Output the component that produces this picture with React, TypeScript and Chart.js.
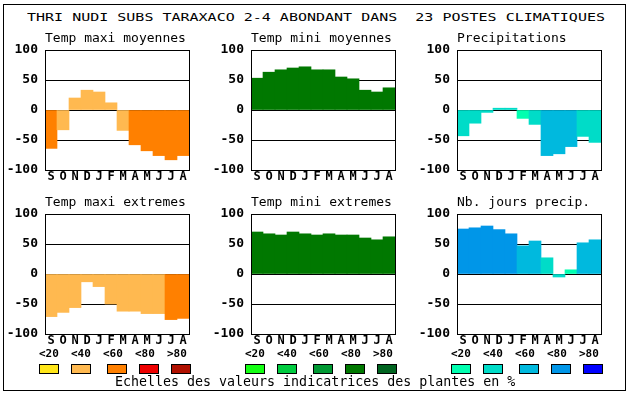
import React, { useEffect, useRef } from 'react';
import { Chart, registerables } from 'chart.js';

Chart.register(...registerables);

// ---------- data ----------
const months = ['S', 'O', 'N', 'D', 'J', 'F', 'M', 'A', 'M', 'J', 'J', 'A'];
const classLabels = ['<20', '<40', '<60', '<80', '>80'];

const tmaxMoy = [-64, -33, 20, 33, 30, 12, -34, -58, -68, -76, -83, -76];
const tmaxMoyCls = [2, 1, 1, 1, 1, 1, 1, 2, 2, 2, 2, 2];
const tminMoy = [53, 63, 67, 70, 72, 67, 67, 55, 52, 33, 30, 37];
const tminMoyCls = [3, 3, 3, 3, 3, 3, 3, 3, 3, 3, 3, 3];
const precip = [-43, -22, -4, 3, 3, -14, -24, -76, -73, -61, -44, -54];
const precipCls = [1, 1, 1, 1, 1, 0, 1, 2, 2, 2, 1, 1];
const tmaxExt = [-71, -64, -56, -13, -21, -50, -62, -62, -66, -66, -76, -74];
const tmaxExtCls = [1, 1, 1, 1, 1, 1, 1, 1, 1, 1, 2, 2];
const tminExt = [70, 67, 65, 70, 67, 65, 67, 65, 65, 60, 57, 62];
const tminExtCls = [3, 3, 3, 3, 3, 3, 3, 3, 3, 3, 3, 3];
const nbJours = [75, 77, 80, 74, 67, 47, 55, 27, -5, 7, 52, 57];
const nbJoursCls = [3, 3, 3, 3, 3, 2, 2, 1, 1, 0, 2, 2];

const mainTitle = 'THRI NUDI SUBS TARAXACO 2-4 ABONDANT DANS  23 POSTES CLIMATIQUES';
const caption = 'Echelles des valeurs indicatrices des plantes en %';

// ---------- styles ----------
const orangeScale = ['#FFE619', '#FFB950', '#FF8000', '#EE0000', '#B01000'];
const greenScale = ['#14FF14', '#00CC40', '#009933', '#007800', '#006420'];
const blueScale = ['#00FFB0', '#00DCC8', '#00B9DE', '#0096E8', '#0000FF'];
const MONO = '"DejaVu Sans Mono", monospace';

const panels = [
  { title: 'Temp maxi moyennes', data: tmaxMoy, cls: tmaxMoyCls, scale: orangeScale, left: 0, top: 30 },
  { title: 'Temp mini moyennes', data: tminMoy, cls: tminMoyCls, scale: greenScale, left: 206, top: 30 },
  { title: 'Precipitations', data: precip, cls: precipCls, scale: blueScale, left: 412, top: 30 },
  { title: 'Temp maxi extremes', data: tmaxExt, cls: tmaxExtCls, scale: orangeScale, left: 0, top: 194 },
  { title: 'Temp mini extremes', data: tminExt, cls: tminExtCls, scale: greenScale, left: 206, top: 194 },
  { title: 'Nb. jours precip.', data: nbJours, cls: nbJoursCls, scale: blueScale, left: 412, top: 194 },
];

const boxPlugin = {
  id: 'boxFrame',
  afterDatasetsDraw(chart: any) {
    const { ctx, chartArea } = chart;
    ctx.save();
    ctx.strokeStyle = '#000';
    ctx.lineWidth = 1;
    ctx.strokeRect(
      Math.round(chartArea.left) + 0.5,
      Math.round(chartArea.top) + 0.5,
      Math.round(chartArea.right - chartArea.left),
      Math.round(chartArea.bottom - chartArea.top)
    );
    ctx.restore();
  },
};

function Panel(props: { title: string; data: number[]; cls: number[]; scale: string[]; left: number; top: number }) {
  const ref = useRef<HTMLCanvasElement | null>(null);
  useEffect(() => {
    if (!ref.current) return;
    const chart = new Chart(ref.current, {
      type: 'bar',
      data: {
        labels: months,
        datasets: [
          {
            data: props.data,
            backgroundColor: props.cls.map((c) => props.scale[c]),
            borderWidth: 0,
            barPercentage: 1,
            categoryPercentage: 1,
          },
        ],
      },
      options: {
        animation: false,
        responsive: false,
        maintainAspectRatio: false,
        devicePixelRatio: 1,
        layout: { padding: { left: 0, right: 1, top: 0, bottom: 0 } },
        plugins: {
          legend: { display: false },
          tooltip: { enabled: false },
          title: {
            display: true,
            text: props.title,
            align: 'start',
            fullSize: false,
            color: '#000',
            font: { family: MONO, size: 13, weight: 'normal', lineHeight: '16px' },
            padding: { top: 1, bottom: 3 },
          },
        },
        scales: {
          x: {
            grid: { display: false, drawTicks: false },
            border: { display: false },
            ticks: {
              color: '#000',
              padding: 1,
              font: { family: MONO, size: 12, weight: 'bold', lineHeight: '12px' },
              maxRotation: 0,
              autoSkip: false,
            },
            afterFit: (s: any) => {
              s.height = 14;
            },
          },
          y: {
            min: -100,
            max: 100,
            z: 1,
            grid: { color: '#000', lineWidth: 1, drawTicks: false },
            border: { display: true, color: '#000' },
            ticks: {
              stepSize: 50,
              color: '#000',
              padding: 7,
              font: { family: MONO, size: 13, weight: 'bold', lineHeight: '10px' },
            },
            afterFit: (s: any) => {
              s.width = 45;
            },
          },
        },
      } as any,
      plugins: [boxPlugin],
    });
    return () => chart.destroy();
  }, []);
  return (
    <canvas
      ref={ref}
      width={190}
      height={154}
      style={{ position: 'absolute', left: props.left, top: props.top, width: 190, height: 154 }}
    />
  );
}

const groupLefts = [39, 245, 451];
const groupScales = [orangeScale, greenScale, blueScale];
const swatchOffsets = [0, 32, 68, 100, 132];
const labelOffsets = [0, 32, 64, 96, 128];

export default function App() {
  return (
    <div
      style={{
        position: 'absolute',
        left: 0,
        top: 0,
        width: 630,
        height: 394,
        background: '#fff',
        overflow: 'hidden',
        fontFamily: MONO,
        color: '#000',
      }}
    >
      <div
        style={{
          position: 'absolute',
          left: 3,
          top: 4,
          width: 623,
          height: 387,
          border: '1px solid #000',
          boxSizing: 'border-box',
        }}
      />
      <div
        style={{
          position: 'absolute',
          left: 27,
          top: 8,
          height: 18,
          lineHeight: '18px',
          fontSize: 15,
          whiteSpace: 'pre',
          transform: 'scaleY(0.72)',
          transformOrigin: 'center',
        }}
      >
        {mainTitle}
      </div>
      {panels.map((p, i) => (
        <Panel key={i} {...p} />
      ))}
      {groupLefts.map((gl, g) => (
        <React.Fragment key={g}>
          {classLabels.map((lab, k) => (
            <div
              key={'l' + k}
              style={{
                position: 'absolute',
                left: gl + labelOffsets[k],
                top: 348,
                height: 12,
                lineHeight: '12px',
                fontSize: 11,
                fontWeight: 'bold',
                whiteSpace: 'pre',
              }}
            >
              {lab}
            </div>
          ))}
          {groupScales[g].map((col, k) => (
            <div
              key={'s' + k}
              style={{
                position: 'absolute',
                left: gl + swatchOffsets[k],
                top: 364,
                width: 20,
                height: 10,
                background: col,
                border: '1px solid #000',
                boxSizing: 'border-box',
              }}
            />
          ))}
        </React.Fragment>
      ))}
      <div
        style={{
          position: 'absolute',
          left: 115,
          top: 375,
          height: 14,
          lineHeight: '14px',
          fontSize: 13.3,
          whiteSpace: 'pre',
        }}
      >
        {caption}
      </div>
    </div>
  );
}
